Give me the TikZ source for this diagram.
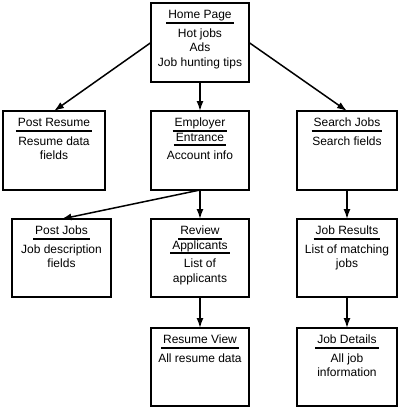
\documentclass[tikz,border=0pt]{standalone}
\usepackage{fontspec}
\setmainfont{Liberation Sans}
\usetikzlibrary{arrows.meta}
\newcommand\ttl[1]{\setbox0\hbox{#1}\leavevmode\hbox{\copy0\kern-\wd0\kern-2bp\lower5bp\hbox{\vrule width\dimexpr\wd0+4bp\relax height 2bp depth 0pt}\kern-2bp}}
\newcommand\boxcontent[3]{\parbox[c][#2][t]{#1}{\centering\fontsize{12bp}{14.5bp}\selectfont\lineskiplimit=-20pt\relax #3\par}}
\tikzset{
  pagebox/.style={draw, line width=1.6bp, inner sep=0pt, outer sep=0pt},
  link/.style={line width=1.5bp, -{Latex[length=10bp,width=7bp]}}
}
\begin{document}
\begin{tikzpicture}[x=1bp,y=-1bp]
\useasboundingbox (0,0) rectangle (400,408);
\node[pagebox] (home) at (200,42.5) {\boxcontent{98bp}{79bp}{\rule{0pt}{15.5bp}\ttl{Home Page}\\[4bp]Hot jobs\\Ads\\Job hunting tips}};
\node[pagebox] (postresume) at (54,150.5) {\boxcontent{102bp}{79bp}{\rule{0pt}{15.5bp}\ttl{Post Resume}\\[4bp]Resume data\\fields}};
\node[pagebox] (employer) at (200,150.5) {\boxcontent{98bp}{79bp}{\rule{0pt}{15.5bp}\ttl{Employer}\\\ttl{Entrance}\\[4bp]Account info}};
\node[pagebox] (search) at (347,150.5) {\boxcontent{100bp}{79bp}{\rule{0pt}{15.5bp}\ttl{Search Jobs}\\[4bp]Search fields}};
\node[pagebox] (postjobs) at (61.5,258) {\boxcontent{99bp}{78bp}{\rule{0pt}{15.5bp}\ttl{Post Jobs}\\[4bp]Job description\\fields}};
\node[pagebox] (review) at (200,258) {\boxcontent{98bp}{78bp}{\rule{0pt}{15.5bp}\ttl{Review}\\\ttl{Applicants}\\[4bp]List of\\applicants}};
\node[pagebox] (results) at (347,258) {\boxcontent{100bp}{78bp}{\rule{0pt}{15.5bp}\ttl{Job Results}\\[4bp]List of matching\\jobs}};
\node[pagebox] (resumeview) at (200,367) {\boxcontent{98bp}{78bp}{\rule{0pt}{15.5bp}\ttl{Resume View}\\[4bp]All resume data}};
\node[pagebox] (details) at (347,367) {\boxcontent{100bp}{78bp}{\rule{0pt}{15.5bp}\ttl{Job Details}\\[4bp]All job\\information}};
\draw[link] (home.west) -- (postresume.north);
\draw[link] (home.south) -- (employer.north);
\draw[link] (home.east) -- (search.north);
\draw[link] (employer.south) -- (postjobs.north);
\draw[link] (employer.south) -- (review.north);
\draw[link] (search.south) -- (results.north);
\draw[link] (review.south) -- (resumeview.north);
\draw[link] (results.south) -- (details.north);
\end{tikzpicture}
\end{document}
